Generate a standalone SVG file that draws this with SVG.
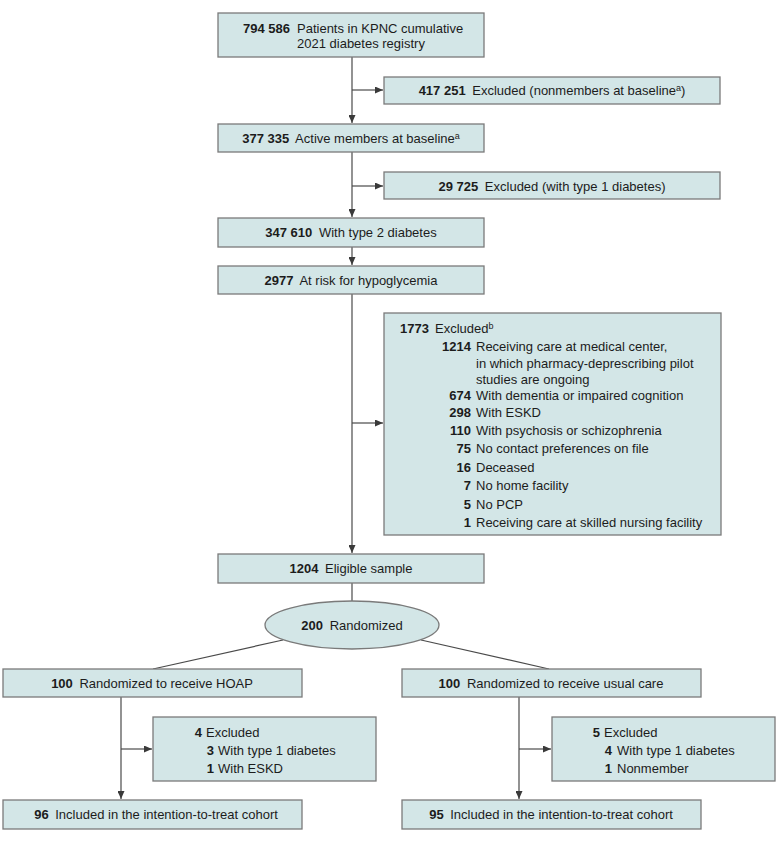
<svg xmlns="http://www.w3.org/2000/svg" width="780" height="843" viewBox="0 0 780 843">
<style>
.box{fill:#d3e6e7;stroke:#7a7a7a;stroke-width:1.3}
.t{font-family:"Liberation Sans",Arial,sans-serif;font-size:13px;fill:#1c1c1c}
.m{text-anchor:middle}
.e{text-anchor:end}
.b{font-weight:bold}
.sup{font-size:9px}
.ln{fill:none;stroke:#4a4a4a;stroke-width:1.2}
</style>
<defs>
<marker id="ah" markerUnits="userSpaceOnUse" markerWidth="9" markerHeight="7" refX="8" refY="3.5" orient="auto">
<path d="M0,0 L8,3.5 L0,7 z" fill="#3a3a3a"/>
</marker>
</defs>
<rect width="780" height="843" fill="#ffffff"/>
<g id="connectors">
<line class="ln" x1="352" y1="57" x2="352" y2="123" marker-end="url(#ah)"/>
<line class="ln" x1="352" y1="90" x2="383" y2="90" marker-end="url(#ah)"/>
<line class="ln" x1="352" y1="152" x2="352" y2="217" marker-end="url(#ah)"/>
<line class="ln" x1="352" y1="186" x2="383" y2="186" marker-end="url(#ah)"/>
<line class="ln" x1="352" y1="247" x2="352" y2="265" marker-end="url(#ah)"/>
<line class="ln" x1="352" y1="294" x2="352" y2="553" marker-end="url(#ah)"/>
<line class="ln" x1="352" y1="423" x2="383" y2="423" marker-end="url(#ah)"/>
<line class="ln" x1="352" y1="583" x2="352" y2="601"/>
<line class="ln" x1="283" y1="640" x2="153" y2="669"/>
<line class="ln" x1="421" y1="640" x2="549" y2="669"/>
<line class="ln" x1="121" y1="697" x2="121" y2="799" marker-end="url(#ah)"/>
<line class="ln" x1="121" y1="749" x2="152" y2="749" marker-end="url(#ah)"/>
<line class="ln" x1="519" y1="697" x2="519" y2="799" marker-end="url(#ah)"/>
<line class="ln" x1="519" y1="749" x2="551" y2="749" marker-end="url(#ah)"/>
</g>
<g id="n1">
<rect class="box" x="218" y="13" width="266" height="44"/>
<text class="t e b" x="290" y="33">794 586</text>
<text class="t" x="297" y="33">Patients in KPNC cumulative</text>
<text class="t" x="297" y="48">2021 diabetes registry</text>
</g>
<g id="x1">
<rect class="box" x="384" y="77" width="336" height="27"/>
<text class="t m" x="552" y="95"><tspan class="b">417 251</tspan><tspan dx="3"> Excluded (nonmembers at baseline</tspan><tspan class="sup" dy="-4">a</tspan><tspan dy="4">)</tspan></text>
</g>
<g id="n2">
<rect class="box" x="218" y="124" width="266" height="28"/>
<text class="t m" x="351" y="143"><tspan class="b">377 335</tspan><tspan dx="3"> Active members at baseline</tspan><tspan class="sup" dy="-4">a</tspan></text>
</g>
<g id="x2">
<rect class="box" x="384" y="172" width="336" height="27"/>
<text class="t m" x="552" y="191"><tspan class="b">29 725</tspan><tspan dx="3"> Excluded (with type 1 diabetes)</tspan></text>
</g>
<g id="n3">
<rect class="box" x="218" y="218" width="266" height="29"/>
<text class="t m" x="351" y="237"><tspan class="b">347 610</tspan><tspan dx="3"> With type 2 diabetes</tspan></text>
</g>
<g id="n4">
<rect class="box" x="218" y="266" width="266" height="28"/>
<text class="t m" x="351" y="285"><tspan class="b">2977</tspan><tspan dx="3"> At risk for hypoglycemia</tspan></text>
</g>
<g id="x3">
<rect class="box" x="384" y="313" width="337" height="222"/>
<text class="t e b" x="429" y="333">1773</text>
<text class="t" x="435" y="333">Excluded<tspan class="sup" dy="-4">b</tspan></text>
<text class="t e b" x="471" y="351">1214</text>
<text class="t" x="476" y="351">Receiving care at medical center,</text>
<text class="t" x="476" y="367.5">in which pharmacy-deprescribing pilot</text>
<text class="t" x="476" y="384">studies are ongoing</text>
<text class="t e b" x="471" y="400">674</text>
<text class="t" x="476" y="400">With dementia or impaired cognition</text>
<text class="t e b" x="471" y="417">298</text>
<text class="t" x="476" y="417">With ESKD</text>
<text class="t e b" x="471" y="435">110</text>
<text class="t" x="476" y="435">With psychosis or schizophrenia</text>
<text class="t e b" x="471" y="453">75</text>
<text class="t" x="476" y="453">No contact preferences on file</text>
<text class="t e b" x="471" y="471.5">16</text>
<text class="t" x="476" y="471.5">Deceased</text>
<text class="t e b" x="471" y="490">7</text>
<text class="t" x="476" y="490">No home facility</text>
<text class="t e b" x="471" y="508.5">5</text>
<text class="t" x="476" y="508.5">No PCP</text>
<text class="t e b" x="471" y="526.5">1</text>
<text class="t" x="476" y="526.5">Receiving care at skilled nursing facility</text>
</g>
<g id="n5">
<rect class="box" x="218" y="554" width="266" height="29"/>
<text class="t m" x="351" y="573"><tspan class="b">1204</tspan><tspan dx="3"> Eligible sample</tspan></text>
</g>
<g id="n6">
<ellipse class="box" cx="352" cy="625" rx="87" ry="24"/>
<text class="t m" x="352" y="630"><tspan class="b">200</tspan><tspan dx="3"> Randomized</tspan></text>
</g>
<g id="n7">
<rect class="box" x="3" y="669" width="299" height="28"/>
<text class="t m" x="152" y="688"><tspan class="b">100</tspan><tspan dx="3"> Randomized to receive HOAP</tspan></text>
</g>
<g id="x4">
<rect class="box" x="153" y="717" width="223" height="64"/>
<text class="t e b" x="202" y="737">4</text>
<text class="t" x="206" y="737">Excluded</text>
<text class="t e b" x="214" y="755">3</text>
<text class="t" x="218" y="755">With type 1 diabetes</text>
<text class="t e b" x="214" y="773">1</text>
<text class="t" x="218" y="773">With ESKD</text>
</g>
<g id="n8">
<rect class="box" x="3" y="800" width="299" height="29"/>
<text class="t m" x="156" y="819"><tspan class="b">96</tspan><tspan dx="3"> Included in the intention-to-treat cohort</tspan></text>
</g>
<g id="n9">
<rect class="box" x="402" y="669" width="299" height="28"/>
<text class="t m" x="551" y="688"><tspan class="b">100</tspan><tspan dx="3"> Randomized to receive usual care</tspan></text>
</g>
<g id="x5">
<rect class="box" x="552" y="717" width="223" height="64"/>
<text class="t e b" x="600" y="737">5</text>
<text class="t" x="604" y="737">Excluded</text>
<text class="t e b" x="612" y="755">4</text>
<text class="t" x="617" y="755">With type 1 diabetes</text>
<text class="t e b" x="612" y="773">1</text>
<text class="t" x="617" y="773">Nonmember</text>
</g>
<g id="n10">
<rect class="box" x="402" y="800" width="299" height="29"/>
<text class="t m" x="551" y="819"><tspan class="b">95</tspan><tspan dx="3"> Included in the intention-to-treat cohort</tspan></text>
</g>
</svg>
